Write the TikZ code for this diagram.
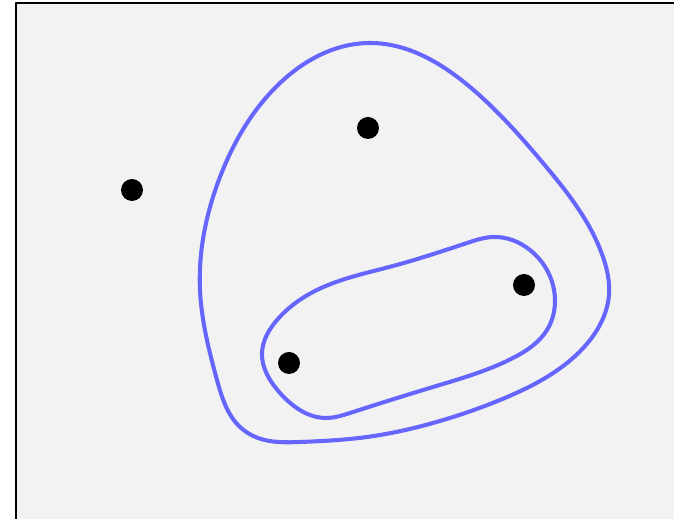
\documentclass[tikz,border=0pt]{standalone}
\usepackage{tikz}
\usetikzlibrary{positioning, hobby}
\definecolor{hullblue}{HTML}{6666FF}
\definecolor{panelgrey}{HTML}{F2F2F2}

\begin{document}
\begin{tikzpicture}[x={(0.02cm,0cm)}, y={(0cm,-0.02cm)}, line join=round,
    dot/.style={circle, fill=black, inner sep=0pt, minimum size=0.44cm},
    hull/.style={hullblue, line width=2.3pt, use Hobby shortcut, closed=true}]
  \useasboundingbox (0,0) rectangle (674,519);
  \clip (0,0) rectangle (674,519);
  % panel
  \draw[fill=panelgrey, line width=1.1pt] (16,3) rectangle (690,530);
  % points
  \node[dot] (p1) at (132,190) {};
  \node[dot] (p2) at (368,128) {};
  \node[dot] (p3) at (524,285) {};
  \node[dot] (p4) at (289,363) {};
  % outer hull round p2, p3, p4
  \draw[hull] (370,43) .. (470,87) .. (543,163) .. (603,257) .. (609,295)
    .. (597,330) .. (567,363) .. (500,400) .. (433,423) .. (367,437)
    .. (300,442) .. (258,438) .. (240,427) .. (217,380) .. (200,290)
    .. (220,177) .. (273,90);
  % inner hull round p3, p4
  \draw[hull] (467,243) .. (493,237) .. (530,250) .. (555,300) .. (547,330)
    .. (513,358) .. (433,387) .. (350,413) .. (327,418) .. (280,393)
    .. (262,353) .. (277,320) .. (313,292) .. (393,266);
\end{tikzpicture}
\end{document}
